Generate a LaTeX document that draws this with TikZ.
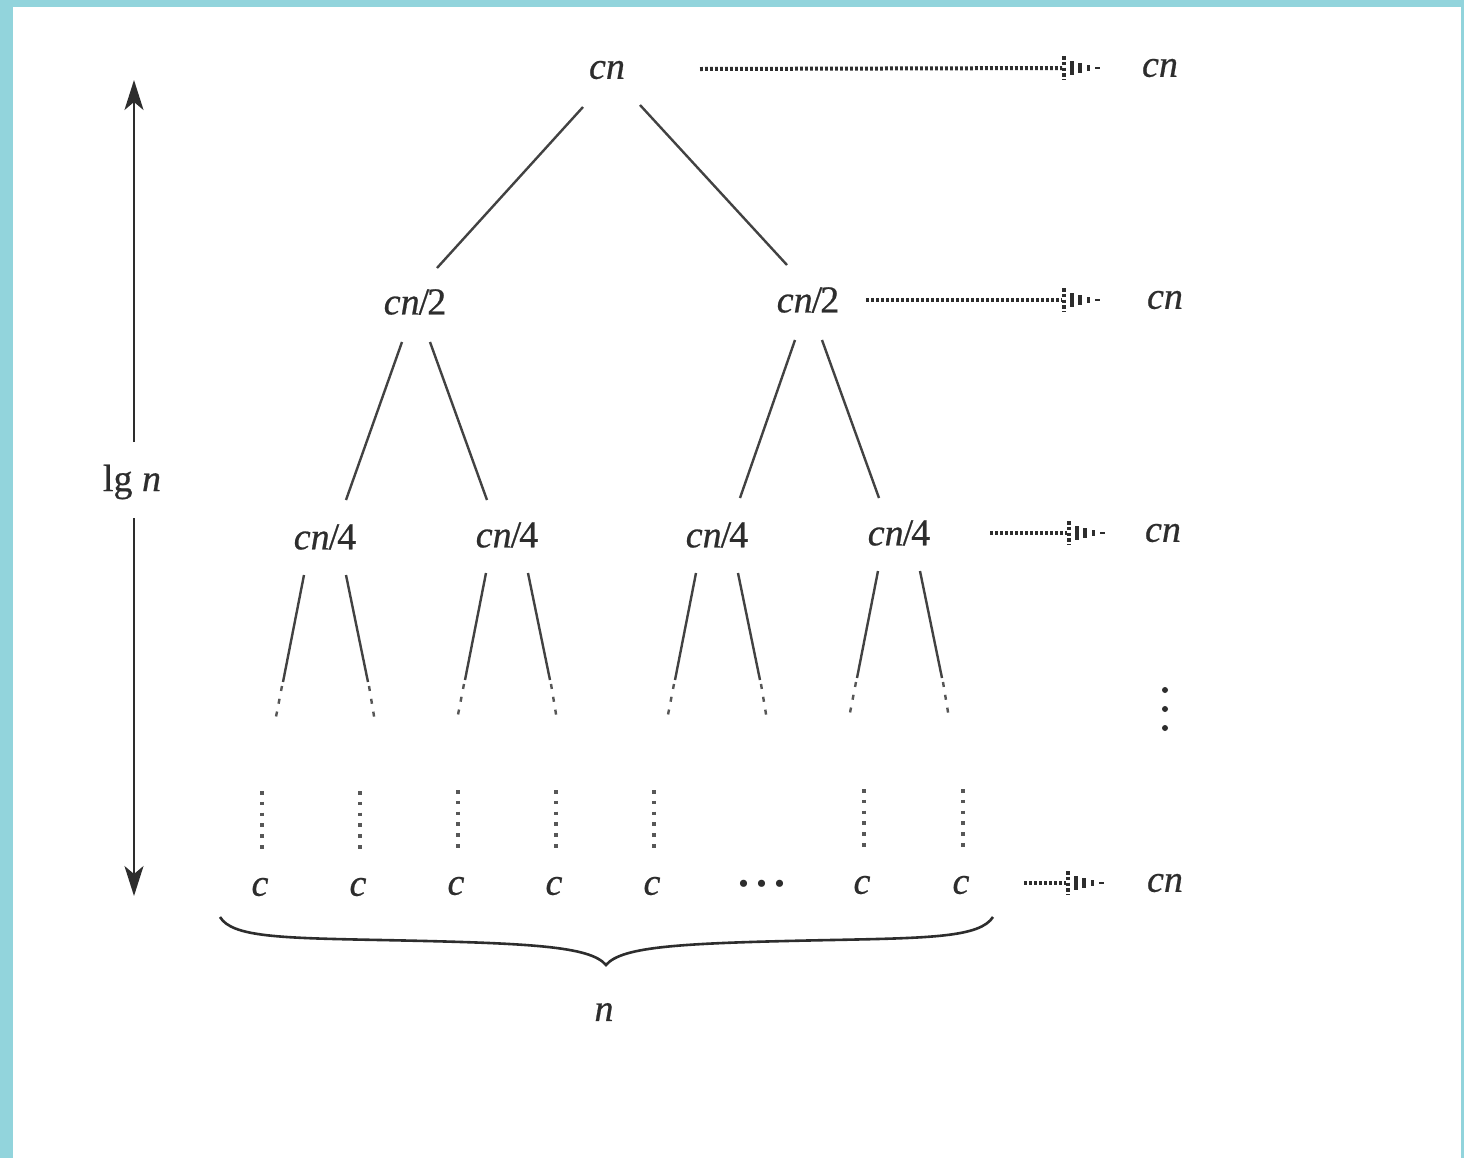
\documentclass[tikz,border=0pt]{standalone}
\usepackage{fontspec}
\setmainfont{Liberation Serif}
\usetikzlibrary{calc,arrows.meta}
\definecolor{teal1}{RGB}{146,212,220}
\definecolor{ink}{RGB}{45,45,45}
\newcommand{\lblfont}{\fontsize{19}{22}\selectfont\addfontfeatures{FakeBold=0.6}}
\newcommand{\cnfrac}[1]{\textit{cn}\kern-0.5pt/\kern-1pt#1}
\tikzset{
  lbl/.style={inner sep=0pt, font=\lblfont, text=ink},
  edge/.style={line width=1.2pt, draw=ink!90},
  edgedot/.style={line width=1.2pt, draw=ink!80, dash pattern=on 2.5pt off 4pt},
  vdotted/.style={line width=1.6pt, draw=ink!80, dash pattern=on 1.8pt off 3.6pt},
  dotline/.style={line width=2pt, draw=ink, dash pattern=on 1.4pt off 1.1pt},
  arr/.style={line width=1pt, draw=ink, -{Stealth[length=15pt,width=9.5pt,inset=4pt]}},
  dhead/.pic={
    \draw[ink, line width=1.8pt, dash pattern=on 1.8pt off 1.1pt] (0,-12) -- (0,12);
    \draw[ink, line width=1.8pt] (8,-7) -- (8,7);
    \draw[ink, line width=1.6pt] (16,-5) -- (16,5);
    \draw[ink, line width=1.5pt] (24,-3) -- (24,3);
    \draw[ink, line width=1.3pt] (31,0) -- (36,0);
  }
}
\begin{document}
\begin{tikzpicture}[x=0.5pt,y=-0.5pt]
% frame
\fill[teal1] (0,0) rectangle (1464,1158);
\fill[white] (13,7) rectangle (1461,1158);
\useasboundingbox (0,0) rectangle (1464,1158);

% tree nodes
\node[lbl] (root) at (607,70) {\textit{cn}};
\node[lbl] (La) at (415,302) {\cnfrac{2}};
\node[lbl] (Lb) at (808,300) {\cnfrac{2}};
\node[lbl] (Qa) at (325,537) {\cnfrac{4}};
\node[lbl] (Qb) at (507,535) {\cnfrac{4}};
\node[lbl] (Qc) at (717,535) {\cnfrac{4}};
\node[lbl] (Qd) at (899,533) {\cnfrac{4}};

% leaves
\node[lbl] (c1) at (260,887) {\textit{c}};
\node[lbl] (c2) at (358,887) {\textit{c}};
\node[lbl] (c3) at (456,886) {\textit{c}};
\node[lbl] (c4) at (554,886) {\textit{c}};
\node[lbl] (c5) at (652,886) {\textit{c}};
\node[lbl,font=\fontsize{30}{30}\selectfont] (cd) at (762,884) {.\kern1.7pt.\kern1.7pt.};
\node[lbl] (c6) at (862,885) {\textit{c}};
\node[lbl] (c7) at (961,885) {\textit{c}};

% right column
\node[lbl] (r0) at (1160,68) {\textit{cn}};
\node[lbl] (r1) at (1165,300) {\textit{cn}};
\node[lbl] (r2) at (1163,533) {\textit{cn}};
\node[lbl] (r4) at (1165,883) {\textit{cn}};
\foreach \yy in {690,709,728} \fill[ink] (1165,\yy) circle (3);

% tree edges
\draw[edge] ($(root)+(-24,37)$) -- ($(La)+(22,-34)$);
\draw[edge] ($(root)+(33,35)$) -- ($(Lb)+(-21,-35)$);
\draw[edge] ($(La)+(-13,40)$) -- ($(Qa)+(21,-37)$);
\draw[edge] ($(La)+(15,40)$) -- ($(Qb)+(-20,-35)$);
\draw[edge] ($(Lb)+(-13,40)$) -- ($(Qc)+(23,-37)$);
\draw[edge] ($(Lb)+(14,40)$) -- ($(Qd)+(-20,-35)$);

\foreach \q in {Qa,Qb,Qc,Qd}{
  \draw[edge] ($(\q)+(-21,38)$) -- ($(\q)+(-42,145)$);
  \draw[edgedot] ($(\q)+(-43,149)$) -- ($(\q)+(-50,185)$);
  \draw[edge] ($(\q)+(21,38)$) -- ($(\q)+(43,145)$);
  \draw[edgedot] ($(\q)+(44,149)$) -- ($(\q)+(50,185)$);
}

% vertical dotted lines above leaves
\foreach \c in {c1,c2,c3,c4,c5,c6,c7}{
  \draw[vdotted] ($(\c)+(2,-96)$) -- ($(\c)+(2,-32)$);
}

% dotted arrows to the right
\draw[dotline] ($(root)+(93,-1)$) -- ($(r0)+(-98,0)$);
\pic at ($(r0)+(-96,0)$) {dhead};
\draw[dotline] ($(Lb)+(58,0)$) -- ($(r1)+(-103,0)$);
\pic at ($(r1)+(-101,0)$) {dhead};
\draw[dotline] ($(Qd)+(91,0)$) -- ($(r2)+(-96,0)$);
\pic at ($(r2)+(-94,0)$) {dhead};
\draw[dotline] ($(c7)+(63,-2)$) -- ($(r4)+(-99,0)$);
\pic at ($(r4)+(-97,0)$) {dhead};

% height arrow
\node[lbl] (lg) at (132,482) {lg \textit{n}};
\coordinate (top) at (134,80);
\coordinate (bot) at (134,896);
\draw[arr] ($(lg)+(2,-40)$) -- (top);
\draw[arr] ($(lg)+(2,36)$) -- (bot);

% brace
\coordinate (bl) at (220,917);
\coordinate (br) at (993,917);
\coordinate (btip) at (606,965);
\draw[ink, line width=1.3pt] (bl) .. controls (232,937) and (280,938) .. (380,940)
  .. controls (530,943) and (590,946) .. (btip)
  .. controls (622,946) and (682,943) .. (832,940)
  .. controls (932,938) and (980,937) .. (br);
\node[lbl] (n) at (604,1012) {\textit{n}};
\end{tikzpicture}
\end{document}
